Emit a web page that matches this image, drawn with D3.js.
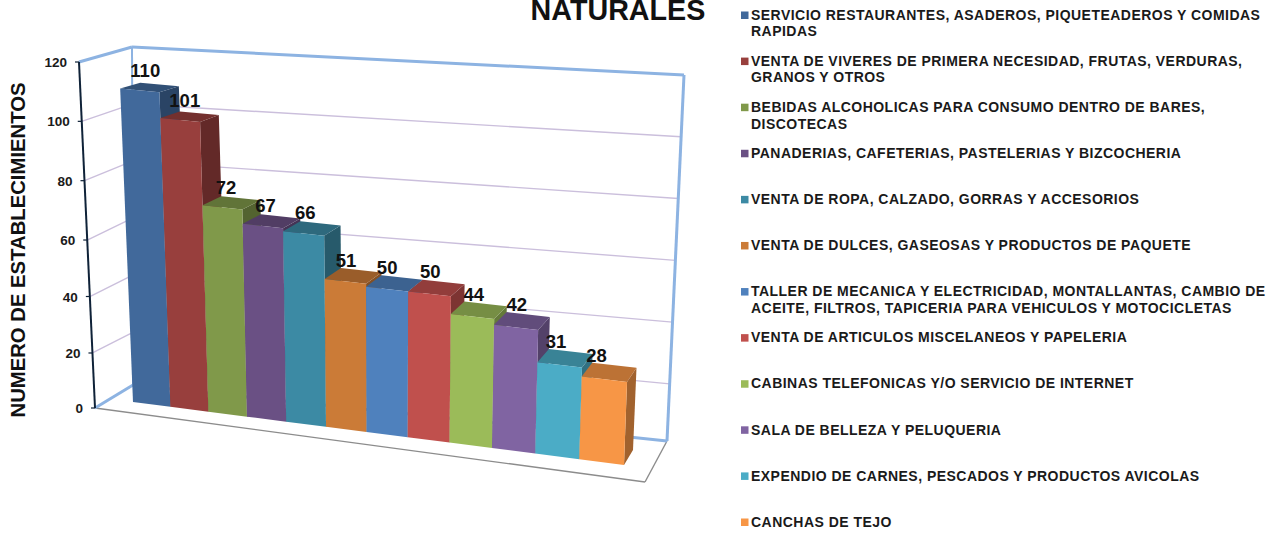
<!DOCTYPE html>
<html><head><meta charset="utf-8">
<script src="https://cdn.jsdelivr.net/npm/d3@7"></script>
<style>html,body{margin:0;padding:0;background:#fff;overflow:hidden}svg{display:block}text{font-family:"Liberation Sans",Arial,sans-serif}</style>
</head><body><svg id="c" width="1278" height="533"></svg>
<script>
const titleText = "NATURALES";
const axisTitle = "NUMERO DE ESTABLECIMIENTOS";
const categories = [
 ["SERVICIO RESTAURANTES, ASADEROS, PIQUETEADEROS Y COMIDAS","RAPIDAS"],
 ["VENTA DE VIVERES DE PRIMERA NECESIDAD, FRUTAS, VERDURAS,","GRANOS Y OTROS"],
 ["BEBIDAS ALCOHOLICAS PARA CONSUMO DENTRO DE BARES,","DISCOTECAS"],
 ["PANADERIAS, CAFETERIAS, PASTELERIAS Y BIZCOCHERIA"],
 ["VENTA DE ROPA, CALZADO, GORRAS Y ACCESORIOS"],
 ["VENTA DE DULCES, GASEOSAS Y PRODUCTOS DE PAQUETE"],
 ["TALLER DE MECANICA Y ELECTRICIDAD, MONTALLANTAS, CAMBIO DE","ACEITE, FILTROS, TAPICERIA PARA VEHICULOS Y MOTOCICLETAS"],
 ["VENTA DE ARTICULOS MISCELANEOS Y PAPELERIA"],
 ["CABINAS TELEFONICAS Y/O SERVICIO DE INTERNET"],
 ["SALA DE BELLEZA Y PELUQUERIA"],
 ["EXPENDIO DE CARNES, PESCADOS Y PRODUCTOS AVICOLAS"],
 ["CANCHAS DE TEJO"]
];
const values = [110,101,72,67,66,51,50,50,44,42,31,28];
const colors = ["#41699b","#983f3d","#80994a","#6a5084","#3c8aa4","#cb7b37","#4f81bd","#c0504d","#9bbb59","#8064a2","#4bacc6","#f79646"];
const yTicks = [0,20,40,60,80,100,120];
const gridTicks = [20,40,60,80,100];

// Perspective frame of the chart box
const barFront = {bl:[133,402],br:[624,465],tl:[119,60],tr:[637,109]};
const barBack  = {bl:[154,389],br:[633,450],tl:[139,55],tr:[648,98]};
const wall     = {bl:[133,385],br:[667,441],tl:[132,47],tr:[684,75]};
const axisFront= {b:[95,408],t:[79,62]};
const floorFrontRight=[645,482];

const lerp=(a,b,t)=>a+(b-a)*t;
const quad=(q,u,v)=>{
  const bx=lerp(q.bl[0],q.br[0],u),by=lerp(q.bl[1],q.br[1],u),
        tx=lerp(q.tl[0],q.tr[0],u),ty=lerp(q.tl[1],q.tr[1],u);
  return [lerp(bx,tx,v),lerp(by,ty,v)];
};
const xBand=d3.scaleBand().domain(d3.range(values.length)).range([0,1]).padding(0);
const r=0.907;
const persp=u=>u*r/(1-(1-r)*u);      // foreshortening along the category axis
const vScale=d3.scaleLinear().domain([0,120]).range([0,1]);
const wallV=d3.scaleLinear().domain([0,20,120]).range([0,0.156,1]);
const axisV=d3.scaleLinear().domain([0,20,60,120]).range([0,0.159,0.4855,1]); // axis tick spacing
const axisPt=val=>{const t=axisV(val);return [lerp(axisFront.b[0],axisFront.t[0],t),lerp(axisFront.b[1],axisFront.t[1],t)];};
const wallPt=(u,val)=>quad(wall,u,wallV(val));

const svg=d3.select("#c");
const line=d3.line();
const seg=(g,a,b,stroke,w)=>g.append("path").attr("d",line([a,b])).attr("fill","none").attr("stroke",stroke).attr("stroke-width",w);

// floor
const gf=svg.append("g");
seg(gf,axisFront.b,floorFrontRight,"#8c8c8c",1.4);
seg(gf,floorFrontRight,wall.br,"#8c8c8c",1.4);

// grid
const gg=svg.append("g");
gridTicks.forEach(t=>{
  seg(gg,axisPt(t),wallPt(0,t),"#cbbfdc",1.4);
  seg(gg,wallPt(0,t),wallPt(1,t),"#cbbfdc",1.4);
});
// walls
const gw=svg.append("g");
const wallBlue="#8db3e2";
seg(gw,axisFront.t,wall.tl,wallBlue,3);
seg(gw,wall.tl,wall.tr,wallBlue,3);
seg(gw,wall.tr,wall.br,wallBlue,3);
seg(gw,wall.br,wall.bl,wallBlue,3);
seg(gw,wall.bl,wall.tl,wallBlue,2);
seg(gw,wall.bl,axisFront.b,wallBlue,3);

// axis
const ga=svg.append("g");
seg(ga,axisFront.b,axisFront.t,"#0f2238",2);
yTicks.forEach(t=>{
  const p=axisPt(t);
  seg(ga,[p[0]-4,p[1]],p,"#0f2238",1.2);
  ga.append("text").attr("x",p[0]-12).attr("y",p[1]+5).attr("text-anchor","end")
    .attr("font-size",13.5).attr("font-weight","bold").attr("fill","#1a1a1a").text(t);
});

// bars
const gb=svg.append("g");
const poly=(pts,fill)=>gb.append("polygon").attr("points",pts.map(p=>p.join(",")).join(" ")).attr("fill",fill);
const shade=(c,k)=>{const o=d3.rgb(c);return d3.rgb(o.r*k,o.g*k,o.b*k).formatHex();};
values.forEach((val,i)=>{
  const u0=persp(xBand(i)),u1=persp(xBand(i)+xBand.bandwidth()),v=vScale(val);
  const f0=quad(barFront,u0,0),f1=quad(barFront,u1,0),f2=quad(barFront,u1,v),f3=quad(barFront,u0,v);
  const b1=quad(barBack,u1,0),b2=quad(barBack,u1,v),b3=quad(barBack,u0,v);
  poly([f1,b1,b2,f2],shade(colors[i],0.65));
  poly([f3,f2,b2,b3],shade(colors[i],0.76));
  poly([f0,f1,f2,f3],colors[i]);
});
// value labels
const gl=svg.append("g");
const dxS=d3.scaleLinear().domain([0,0.5,0.75,1]).range([6,0,2,-10]);
const dyS=d3.scaleLinear().domain([0,1]).range([-13,-17]);
values.forEach((val,i)=>{
  const um=persp(xBand(i)+xBand.bandwidth()/2),p=quad(barFront,um,vScale(val));
  gl.append("text").attr("x",p[0]+dxS(um)).attr("y",p[1]+dyS(um)).attr("text-anchor","middle")
    .attr("font-size",18.5).attr("font-weight","bold").attr("fill","#111").text(val);
});

// titles
svg.append("text").attr("x",618).attr("y",19.5).attr("text-anchor","middle").attr("font-size",28.7)
  .attr("font-weight","bold").attr("fill","#111").text(titleText);
svg.append("text").attr("transform","translate(25,250) rotate(-90)").attr("text-anchor","middle")
  .attr("font-size",20.3).attr("font-weight","bold").attr("fill","#111").text(axisTitle);

// legend
const legendY=d3.scaleLinear().domain([0,11]).range([15,522]);
const lg=svg.append("g");
categories.forEach((lines,i)=>{
  const y=legendY(i);
  lg.append("rect").attr("x",741).attr("y",y-3.5).attr("width",7.5).attr("height",7.5).attr("fill",colors[i]);
  lines.forEach((s,j)=>{
    lg.append("text").attr("x",751).attr("y",y+4.7+j*16.7).attr("font-size",14).attr("font-weight","bold")
      .attr("letter-spacing",0.47).attr("fill","#1a1a1a").text(s);
  });
});
</script></body></html>
